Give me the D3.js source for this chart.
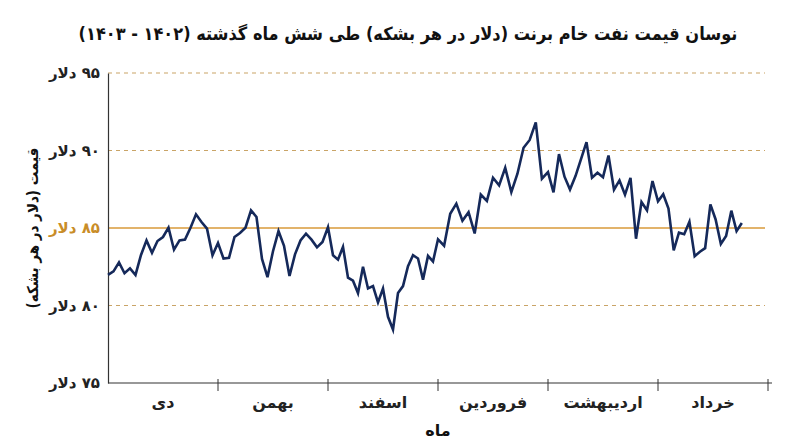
<!DOCTYPE html>
<html>
<head>
<meta charset="utf-8">
<script src="https://cdn.jsdelivr.net/npm/d3@7"></script>
<style>
  body { margin: 0; background: #fff; }
  text { font-family: "DejaVu Sans", sans-serif; }
</style>
</head>
<body>
<div id="chart"></div>
<script>
// months (left to right) and number of trading sessions in each one
const months = ["دی", "بهمن", "اسفند", "فروردین", "اردیبهشت", "خرداد"];
const sessions = [20, 20, 22, 18, 20, 21];

// brent price (usd / barrel), month by month
const dey = [81.97, 82.2, 82.78, 82.08, 82.4, 81.97, 83.26, 84.2, 83.4, 84.16,
  84.42, 85.02, 83.6, 84.2, 84.25, 85.02, 85.88, 85.39, 84.96, 83.24];
const bahman = [84.03, 83.03, 83.07, 84.42, 84.68, 85.02, 86.14, 85.71, 83.0, 81.83,
  83.5, 84.8, 83.85, 81.9, 83.3, 84.2, 84.63, 84.25, 83.75, 84.1];
const esfand = [85.05, 83.24, 82.96, 83.78, 81.8, 81.6, 80.8, 82.5, 81.1, 81.25,
  80.2, 81.1, 79.27, 78.45, 80.8, 81.25, 82.53, 83.24, 83.03, 81.67, 83.2, 82.84];
const farvardin = [84.27, 83.86, 85.92, 86.57, 85.47, 86.02, 84.65, 87.16, 86.75, 88.24,
  87.75, 88.88, 87.32, 88.5, 90.18, 90.68, 91.81, 88.18];
const ordibehesht = [88.61, 87.3, 89.77, 88.31, 87.48, 88.35, 89.45, 90.54, 88.24, 88.56,
  88.28, 89.68, 87.47, 88.07, 87.15, 88.24, 84.31, 86.67, 86.14, 88.03];
const khordad = [86.72, 87.18, 86.25, 83.56, 84.7, 84.6, 85.4, 83.18, 83.47, 83.7,
  86.52, 85.55, 83.97, 84.48, 86.12, 84.8, 85.32];

const yTicks = [75, 80, 85, 90, 95];
const yTickLabels = ["۷۵ دلار", "۸۰ دلار", "۸۵ دلار", "۹۰ دلار", "۹۵ دلار"];
const refPrice = 85;

const title = "نوسان قیمت نفت خام برنت (دلار در هر بشکه) طی شش ماه گذشته (۱۴۰۲ - ۱۴۰۳)";
const yTitle = "قیمت (دلار در هر بشکه)";
const xTitle = "ماه";

const W = 800, H = 447;
const plotLeft = 108, plotRight = 768, plotTop = 73, plotBottom = 383;
const navy = "#15295a";
const gold = "#d99a3a";

const svg = d3.select("#chart").append("svg")
  .attr("width", W)
  .attr("height", H);

// scales
const x = d3.scaleBand().domain(months).range([plotLeft, plotRight]);
const y = d3.scaleLinear().domain([75, 95]).range([plotBottom, plotTop]);

// flatten the months into points
const monthly = [dey, bahman, esfand, farvardin, ordibehesht, khordad];
const points = [];
monthly.forEach((vals, m) => {
  const pos = d3.scaleLinear().domain([0, sessions[m]])
    .range([x(months[m]), x(months[m]) + x.bandwidth()]);
  vals.forEach((v, i) => points.push({ x: pos(i), v: v }));
});

// grid lines
svg.append("g")
  .selectAll("line")
  .data(yTicks.filter(d => d !== 75))
  .enter().append("line")
  .attr("x1", plotLeft)
  .attr("x2", plotRight - 3)
  .attr("y1", d => y(d))
  .attr("y2", d => y(d))
  .attr("stroke", d => d === refPrice ? gold : "#c9a467")
  .attr("stroke-width", d => d === refPrice ? 1.6 : 1.2)
  .attr("stroke-dasharray", d => d === refPrice ? null : "4,4");

// y axis
const yAxis = svg.append("g")
  .attr("transform", `translate(${plotLeft},0)`)
  .call(d3.axisLeft(y).tickValues(yTicks).tickSize(0).tickPadding(8)
    .tickFormat((d, i) => yTickLabels[i]));
yAxis.select(".domain").attr("stroke", "#333").attr("stroke-width", 1.2);
yAxis.selectAll("text")
  .attr("direction", "rtl")
  .attr("text-anchor", "start")
  .attr("font-size", 15)
  .attr("font-weight", "bold")
  .attr("fill", d => d === refPrice ? "#c98d28" : "#222");

// x axis
const xAxis = svg.append("g")
  .attr("transform", `translate(0,${plotBottom})`)
  .call(d3.axisBottom(x).tickSize(0).tickPadding(14).tickSizeOuter(0));
xAxis.select(".domain").attr("stroke", "#333").attr("stroke-width", 1.2)
  .attr("d", `M${plotLeft},0H${plotRight + 4}`);
xAxis.selectAll("text")
  .attr("direction", "rtl")
  .attr("font-size", 16)
  .attr("font-weight", "bold")
  .attr("fill", "#222");

// month boundary ticks
svg.append("g")
  .selectAll("line")
  .data(months)
  .enter().append("line")
  .attr("x1", d => x(d) + x.bandwidth())
  .attr("x2", d => x(d) + x.bandwidth())
  .attr("y1", plotBottom - 4)
  .attr("y2", plotBottom + 8)
  .attr("stroke", "#333")
  .attr("stroke-width", 1);

// price line
const line = d3.line()
  .x(d => d.x)
  .y(d => y(d.v));

svg.append("path")
  .datum(points)
  .attr("fill", "none")
  .attr("stroke", navy)
  .attr("stroke-width", 2.6)
  .attr("stroke-linejoin", "miter")
  .attr("d", line);

// titles
svg.append("text")
  .attr("x", 408)
  .attr("y", 40)
  .attr("direction", "rtl")
  .attr("text-anchor", "middle")
  .style("font-family", "'DejaVu Sans Condensed', 'DejaVu Sans', sans-serif")
  .attr("font-size", 18)
  .attr("font-weight", "bold")
  .attr("fill", "#111")
  .text(title);

svg.append("text")
  .attr("transform", `translate(38,${(plotTop + plotBottom) / 2}) rotate(-90)`)
  .attr("direction", "rtl")
  .attr("text-anchor", "middle")
  .style("font-family", "'DejaVu Sans Condensed', 'DejaVu Sans', sans-serif")
  .attr("font-size", 15)
  .attr("font-weight", "bold")
  .attr("fill", "#111")
  .text(yTitle);

svg.append("text")
  .attr("x", (plotLeft + plotRight) / 2)
  .attr("y", 436)
  .attr("direction", "rtl")
  .attr("text-anchor", "middle")
  .attr("font-size", 16)
  .attr("font-weight", "bold")
  .attr("fill", "#111")
  .text(xTitle);
</script>
</body>
</html>
